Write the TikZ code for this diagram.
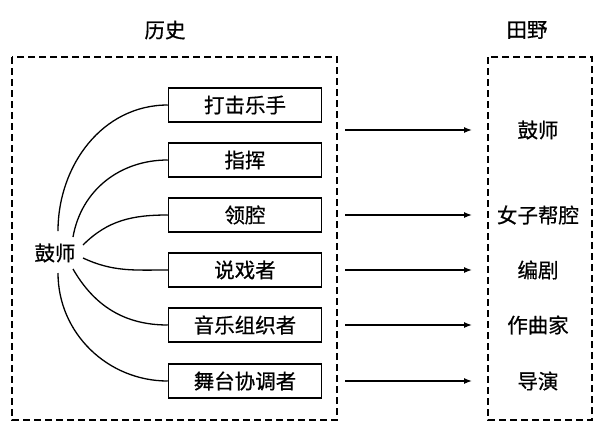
\documentclass[tikz,border=0pt]{standalone}
\usepackage{fontspec}
\setmainfont{Noto Sans CJK SC}[FakeBold=0.6]
\usetikzlibrary{arrows.meta}
\begin{document}
\begin{tikzpicture}[x=1pt,y=-1pt,
  every node/.style={font=\fontsize{20.5}{22}\selectfont, inner sep=0pt},
  rolebox/.style={draw, line width=1.5pt, minimum width=153pt, minimum height=34pt},
  dashbox/.style={draw, line width=1.4pt, dash pattern=on 7pt off 4pt},
  link/.style={line width=1.3pt},
  arr/.style={line width=1.3pt, -{Latex[length=8pt,width=6pt]}}]
\useasboundingbox (0,0) rectangle (600,432);
\draw[dashbox] (12,57) rectangle (337,420);
\draw[dashbox] (488,57) rectangle (592,420);
\node (h) at (165,30) {历史};
\node (t) at (527,30) {田野};
\node (g) at (55,253) {鼓师};
\node[rolebox] (b1) at (245,105) {打击乐手};
\node[rolebox] (b2) at (245,160) {指挥};
\node[rolebox] (b3) at (245,215) {领腔};
\node[rolebox] (b4) at (245,270) {说戏者};
\node[rolebox] (b5) at (245,325) {音乐组织者};
\node[rolebox] (b6) at (245,381) {舞台协调者};
\node (r1) at (538,130) {鼓师};
\node (r3) at (538,215) {女子帮腔};
\node (r4) at (538,270) {编剧};
\node (r5) at (538,325) {作曲家};
\node (r6) at (538,381) {导演};
\coordinate (s1) at (58,231);
\coordinate (s2) at (73,237);
\coordinate (s3) at (83,245);
\coordinate (s4) at (83,258);
\coordinate (s5) at (73,269);
\coordinate (s6) at (58,273);
\draw[link] (s1) to[out=90,in=180] (b1.west);
\draw[link] (s2) to[out=80,in=180] (b2.west);
\draw[link] (s3) to[out=45,in=180] (b3.west);
\draw[link] (s4) to[out=-25,in=180] (b4.west);
\draw[link] (s5) to[out=-60,in=180] (b5.west);
\draw[link] (s6) to[out=-90,in=180] (b6.west);
\coordinate (a1) at (345,130);
\coordinate (e1) at (472,130);
\coordinate (a3) at (345,215);
\coordinate (e3) at (472,215);
\coordinate (a4) at (345,270);
\coordinate (e4) at (472,270);
\coordinate (a5) at (345,325);
\coordinate (e5) at (472,325);
\coordinate (a6) at (345,381);
\coordinate (e6) at (472,381);
\draw[arr] (a1) -- (e1);
\draw[arr] (a3) -- (e3);
\draw[arr] (a4) -- (e4);
\draw[arr] (a5) -- (e5);
\draw[arr] (a6) -- (e6);
\end{tikzpicture}
\end{document}
